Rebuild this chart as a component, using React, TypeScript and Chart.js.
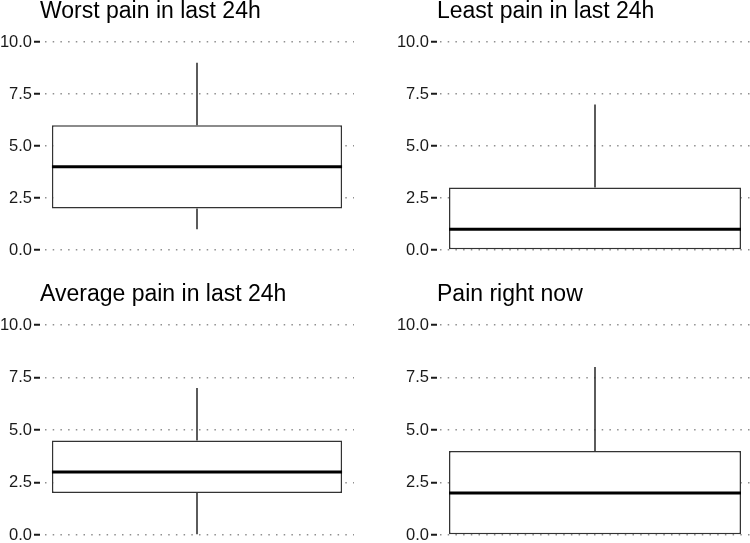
import React, { useEffect, useRef } from "react";
import { Chart, registerables } from "chart.js";

Chart.register(...registerables);

// ---- data ----
const panelTitles = [
  "Worst pain in last 24h",
  "Least pain in last 24h",
  "Average pain in last 24h",
  "Pain right now",
];
const whiskerLow = [1, 0, 0, 0];
const lowerQuartile = [2, 0, 2, 0];
const medianValue = [4, 1, 3, 2];
const upperQuartile = [6, 3, 4.5, 4];
const whiskerHigh = [9, 7, 7, 8];
const yTickValues = [0, 2.5, 5, 7.5, 10];
const categoryLabels = [""];

// ---- layout (page pixels) ----
type PanelLayout = {
  left: number;
  top: number;
  width: number;
  height: number;
  axisWidth: number;
  padRight: number;
  padBottom: number;
  titleTop: number;
  titleBottom: number;
  dashOffset: number;
};

const panelLayouts: PanelLayout[] = [
  { left: 0, top: 0, width: 375, height: 270, axisWidth: 40, padRight: 21, padBottom: 12.7, titleTop: 0, titleBottom: 8.6, dashOffset: 2.7 },
  { left: 375, top: 0, width: 378, height: 270, axisWidth: 62, padRight: 0, padBottom: 12.7, titleTop: 0, titleBottom: 8.6, dashOffset: 4.7 },
  { left: 0, top: 270, width: 375, height: 273, axisWidth: 40, padRight: 21, padBottom: 0.65, titleTop: 13.2, titleBottom: 8.3, dashOffset: 2.7 },
  { left: 375, top: 270, width: 378, height: 273, axisWidth: 62, padRight: 0, padBottom: 0.65, titleTop: 13.2, titleBottom: 8.3, dashOffset: 4.7 },
];

const FONT = "'Liberation Sans', Arial, Helvetica, sans-serif";
const BOX_FRACTION = 0.924;
const MEDIAN_HALF = 0.072; // half thickness of the median stroke, in value units

function Panel({ index }: { index: number }) {
  const ref = useRef<HTMLCanvasElement | null>(null);
  const lay = panelLayouts[index];

  useEffect(() => {
    if (!ref.current) return;
    const q1 = lowerQuartile[index];
    const q3 = upperQuartile[index];
    const med = medianValue[index];
    const lo = whiskerLow[index];
    const hi = whiskerHigh[index];

    const common = {
      grouped: false,
      categoryPercentage: 1,
      borderSkipped: false,
      inflateAmount: 0,
    };

    const chart = new Chart(ref.current, {
      type: "bar",
      data: {
        labels: categoryLabels,
        datasets: [
          {
            ...common,
            data: [[med - MEDIAN_HALF, med + MEDIAN_HALF]],
            barPercentage: BOX_FRACTION,
            backgroundColor: "#000000",
            borderWidth: 0,
          },
          {
            ...common,
            data: [[q1, q3]],
            barPercentage: BOX_FRACTION,
            backgroundColor: "#ffffff",
            borderColor: "#333333",
            borderWidth: 1.5,
          },
          {
            ...common,
            data: [[q3, hi]],
            barThickness: 1.6,
            backgroundColor: "#333333",
            borderWidth: 0,
          },
          {
            ...common,
            data: [[lo, q1]],
            barThickness: 1.6,
            backgroundColor: "#333333",
            borderWidth: 0,
          },
        ] as any,
      },
      options: {
        animation: false,
        responsive: true,
        maintainAspectRatio: false,
        layout: {
          padding: { left: 0, top: 0, right: lay.padRight, bottom: lay.padBottom },
        },
        plugins: {
          legend: { display: false },
          tooltip: { enabled: false },
          title: {
            display: true,
            text: panelTitles[index],
            align: "start",
            fullSize: false,
            color: "#000000",
            font: { family: FONT, size: 23, weight: "normal", lineHeight: 1 },
            padding: { top: lay.titleTop, bottom: lay.titleBottom },
          },
        },
        scales: {
          x: {
            type: "category",
            display: false,
            offset: true,
          },
          y: {
            type: "linear",
            min: -0.35,
            max: 10.5,
            afterBuildTicks: (scale: any) => {
              scale.ticks = yTickValues.map((v) => ({ value: v }));
            },
            afterFit: (scale: any) => {
              scale.width = lay.axisWidth;
              scale.paddingTop = 0;
              scale.paddingBottom = 0;
            },
            ticks: {
              padding: 2,
              color: "#1a1a1a",
              font: { family: FONT, size: 16.5 },
              callback: (v: any) => Number(v).toFixed(1),
            },
            grid: {
              color: "#8f8f8f",
              lineWidth: 1.5,
              drawTicks: true,
              tickLength: 6,
              tickWidth: 2,
              tickColor: "#1a1a1a",
            },
            border: {
              display: false,
              dash: [1.5, 6.2],
              dashOffset: lay.dashOffset,
            },
          },
        },
      } as any,
    });
    return () => chart.destroy();
  }, [index]);

  return (
    <div
      style={{
        position: "absolute",
        left: lay.left,
        top: lay.top,
        width: lay.width,
        height: lay.height,
      }}
    >
      <canvas ref={ref} />
    </div>
  );
}

export default function App() {
  return (
    <div
      style={{
        position: "absolute",
        left: 0,
        top: 0,
        width: 750,
        height: 543,
        overflow: "hidden",
        background: "#ffffff",
      }}
    >
      {panelTitles.map((_, i) => (
        <Panel key={i} index={i} />
      ))}
    </div>
  );
}
